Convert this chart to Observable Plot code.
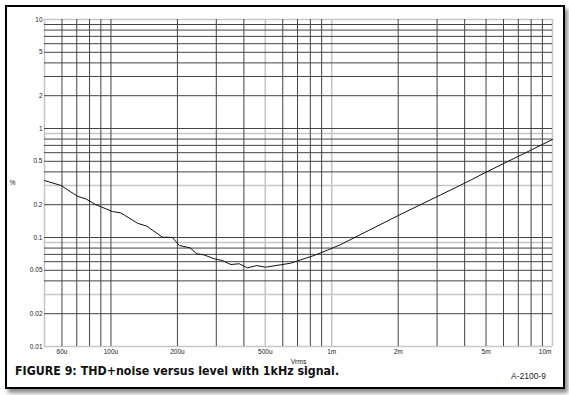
<!DOCTYPE html>
<html>
<head>
<meta charset="utf-8">
<script src="https://cdn.jsdelivr.net/npm/d3@7"></script>
<script src="https://cdn.jsdelivr.net/npm/@observablehq/plot@0.6"></script>
<style>
  html, body { margin: 0; padding: 0; background: #fff; }
  #page { position: relative; width: 569px; height: 395px; overflow: hidden; background: #fff; }
  #frame { position: absolute; left: 5px; top: 5px; width: 556px; height: 380px;
           border: 2px solid #000; box-shadow: 3px 4px 4px rgba(0,0,0,0.45); background: #fff; }
  #chart { position: absolute; left: 0; top: 0; }
  #caption { position: absolute; left: 15px; top: 367px; font-family: "Liberation Sans Narrow", "DejaVu Sans Condensed", sans-serif;
             font-weight: bold; font-size: 12.3px; line-height: 9px; color: #111; white-space: nowrap; }
  #code { position: absolute; right: 23px; top: 372px; font-family: "Liberation Sans", Arial, sans-serif;
          font-size: 8.5px; line-height: 8px; color: #222; white-space: nowrap; }
</style>
</head>
<body>
<div id="page">
  <div id="frame"></div>
  <div id="chart"></div>
  <div id="caption">FIGURE 9: THD+noise versus level with 1kHz signal.</div>
  <div id="code">A-2100-9</div>
</div>
<script>
// Signal level (Vrms, in volts) and THD+noise (%)
const vrms = [50e-6, 59.4e-6, 70.7e-6, 77e-6, 85.5e-6, 101.7e-6, 111e-6, 132e-6, 145.5e-6, 171e-6, 190e-6,
              204e-6, 228e-6, 245e-6, 264e-6, 294e-6, 320e-6, 349e-6, 381e-6, 415e-6, 458e-6, 500e-6,
              588e-6, 652e-6, 724e-6, 832e-6, 956e-6, 1.1e-3, 2e-3, 4e-3, 5e-3, 10e-3];
const thd  = [0.333, 0.30, 0.238, 0.226, 0.20, 0.173, 0.168, 0.135, 0.127, 0.1007, 0.10,
              0.0845, 0.0804, 0.0708, 0.0693, 0.0637, 0.0615, 0.0565, 0.0574, 0.0527, 0.0553, 0.0534,
              0.0562, 0.0581, 0.0624, 0.0684, 0.0765, 0.0863, 0.159, 0.315, 0.397, 0.793];

// Tick labels
const xTickValues = [60e-6, 100e-6, 200e-6, 500e-6, 1e-3, 2e-3, 5e-3];
const xTickLabels = ["60u", "100u", "200u", "500u", "1m", "2m", "5m"];
const xEndTick = [10e-3];
const xEndLabel = ["10m"];
const yTickValues = [10, 5, 2, 1, 0.5, 0.2, 0.1, 0.05, 0.02, 0.01];
const yTickLabels = ["10", "5", "2", "1", "0.5", "0.2", "0.1", "0.05", "0.02", "0.01"];

// Grid lines (dark) and the ones that appear light grey in the reference
const xGridDark = [60e-6, 70e-6, 80e-6, 90e-6, 100e-6, 200e-6, 300e-6, 400e-6, 600e-6, 700e-6, 800e-6, 900e-6,
                   2e-3, 3e-3, 4e-3, 5e-3, 6e-3, 7e-3, 8e-3, 9e-3];
const xGridLight = [50e-6, 500e-6, 1e-3, 10e-3];
const yGridDark = [0.02, 0.04, 0.05, 0.06, 0.07, 0.08, 0.1, 0.2, 0.4, 0.5, 0.6, 0.7, 0.8, 1, 2, 3, 4, 5, 6, 7, 8, 9];
const yGridLight = [0.01, 0.03, 0.09, 0.3, 0.9, 10];

const data = vrms.map((v, i) => ({v, p: thd[i]}));
const xTicks = xTickValues.map((v, i) => ({v, label: xTickLabels[i]}));
const xEnd = xEndTick.map((v, i) => ({v, label: xEndLabel[i]}));
const yTicks = yTickValues.map((v, i) => ({v, label: yTickLabels[i]}));

const labelStyle = {fontSize: 6.5, fill: "#222"};

const chart = Plot.plot({
  width: 569,
  height: 370,
  marginLeft: 44,
  marginRight: 17,
  marginTop: 19,
  marginBottom: 24,
  x: {type: "log", domain: [50e-6, 10e-3], axis: null},
  y: {type: "log", domain: [0.01, 10], axis: null},
  style: {background: "transparent", fontFamily: "'Liberation Sans', Arial, sans-serif", overflow: "visible"},
  marks: [
    Plot.ruleX(xGridLight, {stroke: "#c6c6c6", strokeWidth: 1.6}),
    Plot.ruleY(yGridLight, {stroke: "#c6c6c6", strokeWidth: 1.6}),
    Plot.ruleX(xGridDark, {stroke: "#444", strokeWidth: 1}),
    Plot.ruleY(yGridDark, {stroke: "#444", strokeWidth: 1}),
    Plot.line(data, {x: "v", y: "p", stroke: "#111", strokeWidth: 1}),
    Plot.text(xTicks, {x: "v", text: "label", frameAnchor: "bottom", dy: 5, lineAnchor: "middle", ...labelStyle}),
    Plot.text(xEnd, {x: "v", text: "label", frameAnchor: "bottom", dy: 5, dx: -1, lineAnchor: "middle", textAnchor: "end", ...labelStyle}),
    Plot.text(yTicks, {y: "v", text: "label", frameAnchor: "left", dx: -2, lineAnchor: "middle", textAnchor: "end", ...labelStyle}),
    Plot.text(["Vrms"], {frameAnchor: "bottom", dy: 15, lineAnchor: "middle", fontSize: 6.8, fill: "#222"}),
    Plot.text(["%"], {frameAnchor: "left", dx: -32, lineAnchor: "middle", textAnchor: "middle", fontSize: 6.8, fill: "#222"})
  ]
});
document.getElementById("chart").appendChild(chart);
</script>
</body>
</html>
